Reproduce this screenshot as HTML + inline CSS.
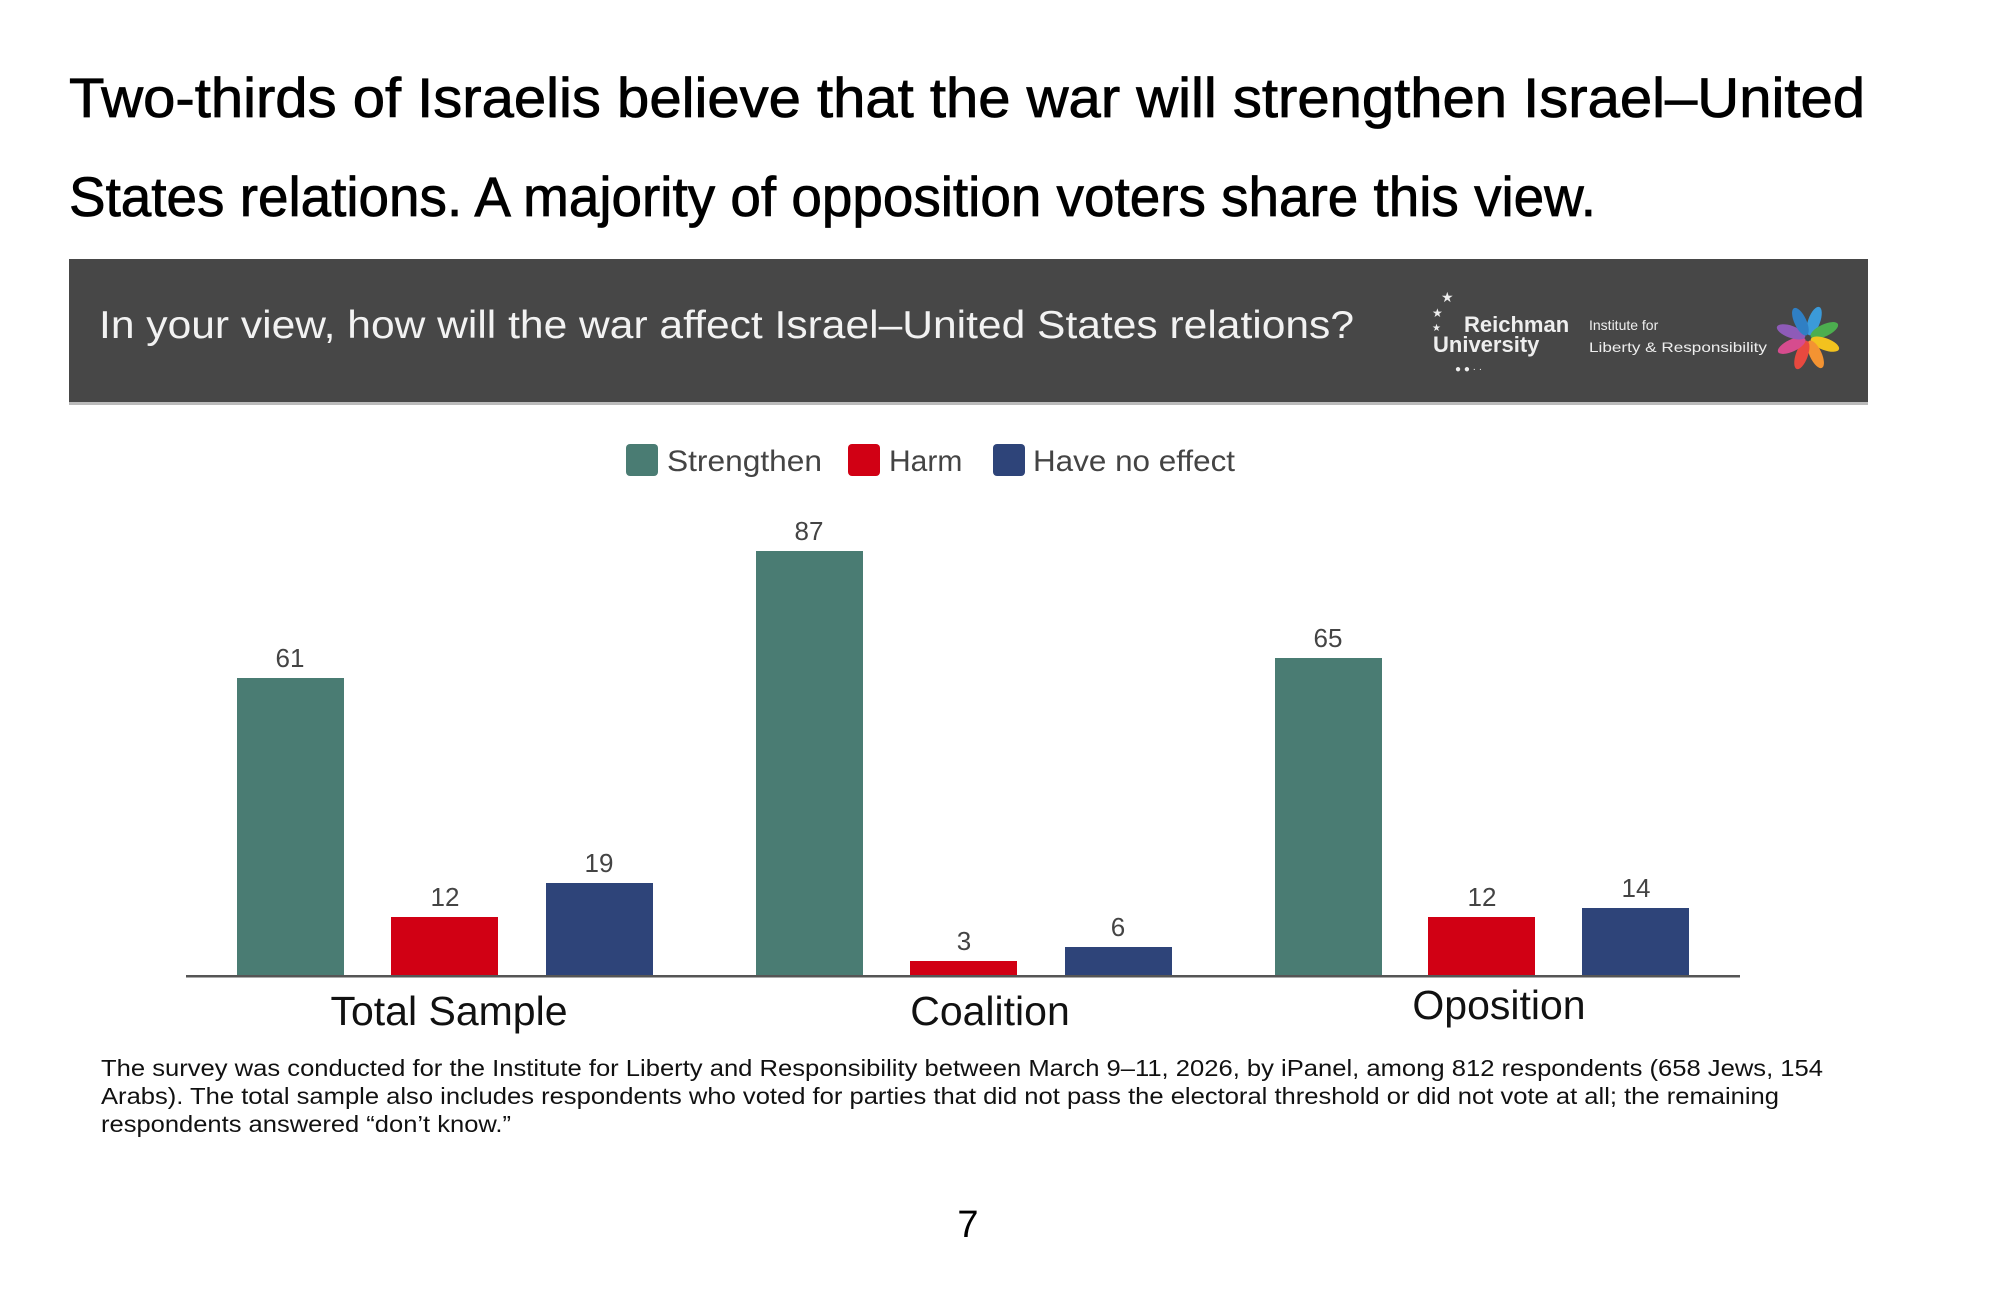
<!DOCTYPE html>
<html><head><meta charset="utf-8"><style>
html,body{margin:0;padding:0;background:#fff;}
svg{display:block;}
text{font-family:"Liberation Sans",sans-serif;}
</style></head><body>
<svg width="2000" height="1293" viewBox="0 0 2000 1293" xmlns="http://www.w3.org/2000/svg">
<rect width="2000" height="1293" fill="#fff"/>
<text x="69" y="117" font-size="56" fill="#000" stroke="#000" stroke-width="0.8" textLength="1796" lengthAdjust="spacingAndGlyphs">Two-thirds of Israelis believe that the war will strengthen Israel–United</text>
<text x="69" y="216" font-size="56" fill="#000" stroke="#000" stroke-width="0.8" textLength="1527" lengthAdjust="spacingAndGlyphs">States relations. A majority of opposition voters share this view.</text>
<rect x="69" y="259" width="1799" height="145" fill="#474747"/>
<rect x="69" y="402" width="1799" height="3" fill="#bbb"/>
<text x="99" y="338" font-size="39" fill="#f2f2f2" textLength="1255" lengthAdjust="spacingAndGlyphs">In your view, how will the war affect Israel–United States relations?</text>
<g fill="#eee">
<text x="1441" y="302" font-size="14">★</text><text x="1432" y="317" font-size="12">★</text><text x="1432" y="331" font-size="10">★</text>
<text x="1464" y="332" font-family="Liberation Serif,serif" font-weight="bold" font-size="22">Reichman</text>
<text x="1433" y="352" font-family="Liberation Serif,serif" font-weight="bold" font-size="22">University</text>
<text x="1455" y="372" font-size="10">● ● · ·</text>
<text x="1589" y="330" font-size="14">Institute for</text>
<text x="1589" y="352" font-size="14" textLength="178" lengthAdjust="spacingAndGlyphs">Liberty &amp; Responsibility</text>
</g>
<g transform="translate(1808,338)">
<ellipse cx="0" cy="-18" rx="6" ry="15" fill="#3b9ad9" transform="rotate(20)"/>
<ellipse cx="0" cy="-18" rx="6" ry="15" fill="#4cae4f" transform="rotate(65)"/>
<ellipse cx="0" cy="-18" rx="6" ry="15" fill="#f3c21e" transform="rotate(110)"/>
<ellipse cx="0" cy="-18" rx="6" ry="15" fill="#f39332" transform="rotate(155)"/>
<ellipse cx="0" cy="-18" rx="6" ry="15" fill="#e8493f" transform="rotate(200)"/>
<ellipse cx="0" cy="-18" rx="6" ry="15" fill="#d64c8e" transform="rotate(245)"/>
<ellipse cx="0" cy="-18" rx="6" ry="15" fill="#8e5bb8" transform="rotate(290)"/>
<ellipse cx="0" cy="-18" rx="6" ry="15" fill="#2f7fc4" transform="rotate(335)"/>
</g>
<rect x="626" y="444" width="32" height="32" rx="4" fill="#4a7c73"/>
<text x="667" y="471" font-size="30" fill="#444" textLength="155" lengthAdjust="spacingAndGlyphs">Strengthen</text>
<rect x="848" y="444" width="32" height="32" rx="4" fill="#d10014"/>
<text x="889" y="471" font-size="30" fill="#444">Harm</text>
<rect x="993" y="444" width="32" height="32" rx="4" fill="#2e4479"/>
<text x="1033" y="471" font-size="30" fill="#444" textLength="202" lengthAdjust="spacingAndGlyphs">Have no effect</text>
<g>
<rect x="237" y="678" width="107" height="298" fill="#4a7c73"/>
<rect x="391" y="917" width="107" height="59" fill="#d10014"/>
<rect x="546" y="883" width="107" height="93" fill="#2e4479"/>
<rect x="756" y="551" width="107" height="425" fill="#4a7c73"/>
<rect x="910" y="961" width="107" height="15" fill="#d10014"/>
<rect x="1065" y="947" width="107" height="29" fill="#2e4479"/>
<rect x="1275" y="658" width="107" height="318" fill="#4a7c73"/>
<rect x="1428" y="917" width="107" height="59" fill="#d10014"/>
<rect x="1582" y="908" width="107" height="68" fill="#2e4479"/>
</g>
<rect x="186" y="975" width="1554" height="2.5" fill="#555"/>
<g font-size="26" fill="#444" text-anchor="middle">
<text x="290" y="667">61</text><text x="445" y="906">12</text><text x="599" y="872">19</text>
<text x="809" y="540">87</text><text x="964" y="950">3</text><text x="1118" y="936">6</text>
<text x="1328" y="647">65</text><text x="1482" y="906">12</text><text x="1636" y="897">14</text>
</g>
<g font-size="41" fill="#111" text-anchor="middle">
<text x="449" y="1025">Total Sample</text>
<text x="990" y="1025">Coalition</text>
<text x="1499" y="1019">Oposition</text>
</g>
<g font-size="23" fill="#111">
<text x="101" y="1076" textLength="1722" lengthAdjust="spacingAndGlyphs">The survey was conducted for the Institute for Liberty and Responsibility between March 9–11, 2026, by iPanel, among 812 respondents (658 Jews, 154</text>
<text x="101" y="1104" textLength="1678" lengthAdjust="spacingAndGlyphs">Arabs). The total sample also includes respondents who voted for parties that did not pass the electoral threshold or did not vote at all; the remaining</text>
<text x="101" y="1132" textLength="410" lengthAdjust="spacingAndGlyphs">respondents answered “don’t know.”</text>
</g>
<text x="968" y="1237" font-size="38" fill="#000" text-anchor="middle">7</text>
</svg>
</body></html>
